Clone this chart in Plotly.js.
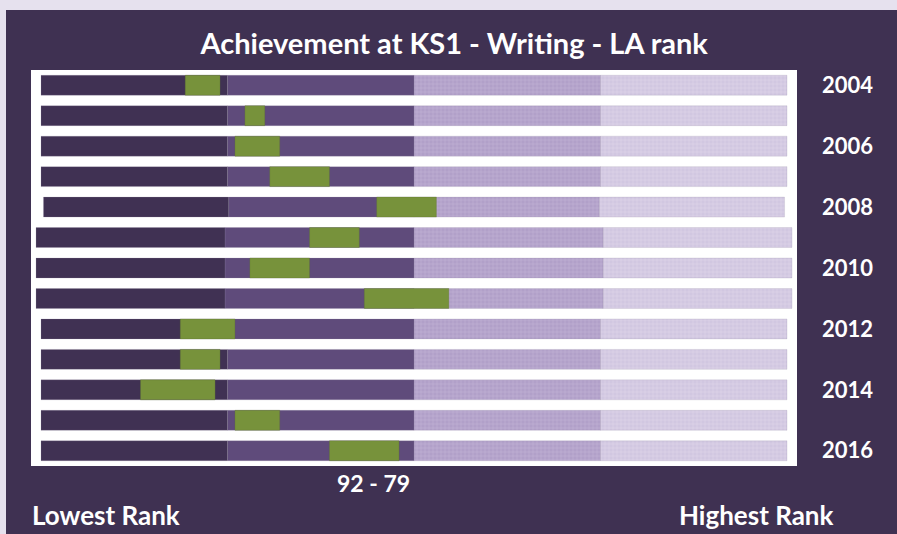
<!DOCTYPE html>
<html>
<head>
<meta charset="utf-8">
<script src="https://cdn.plot.ly/plotly-3.0.1.min.js"></script>
<style>
  html, body { margin: 0; padding: 0; background: #e6e1ee; width: 897px; height: 534px; overflow: hidden; }
  #chart { position: absolute; left: 6px; top: 10px; width: 891px; height: 524px; }
</style>
</head>
<body>
<div id="chart"></div>
<script>
// ---- data ----
const years = ['2004','2005','2006','2007','2008','2009','2010','2011','2012','2013','2014','2015','2016'];
const yearLabels = ['2004','','2006','','2008','','2010','','2012','','2014','','2016'];
// number of local authorities ranked each year
const laCount = [150,150,150,150,149,152,152,152,150,150,150,150,150];
// LA rank range for each year (worst rank, best rank)
const rangeWorst = [121,109,111,104,82,97,109,86,122,122,130,111,92];
const rangeBest  = [115,106,103,93,71,88,98,70,112,115,116,103,79];
const latestLabel = '92 - 79';

// ---- styling ----
const BG = '#3f3152';
const bandColors = ['#d4cbe3', '#b3a3cb', '#5f4b7b', '#403153']; // top quartile -> bottom quartile
const bandPattern = [
  {shape: '+', fgcolor: '#e3dcee', bgcolor: '#d1c7e1', size: 4, solidity: 0.2, fillmode: 'replace'},
  {shape: '+', fgcolor: '#c5b8da', bgcolor: '#b1a0c9', size: 4, solidity: 0.2, fillmode: 'replace'},
  null, null
];
const GREEN = '#77923b';
const FONT = 'Lato, "Open Sans", sans-serif';

// centre every year's bar on the median rank position
const shift = laCount.map(n => (n - 150) / 2);

const traces = [];
for (let k = 0; k < 4; k++) {
  const t = {
    type: 'bar', orientation: 'h',
    y: years,
    base: laCount.map((n, i) => n * k / 4 - shift[i]),
    x: laCount.map(n => n / 4),
    width: 0.655,
    marker: { color: bandColors[k], line: { color: 'rgba(150,140,165,0.35)', width: 0.6 } },
    hoverinfo: 'skip', showlegend: false
  };
  if (bandPattern[k]) t.marker.pattern = bandPattern[k];
  traces.push(t);
}
traces.push({
  type: 'bar', orientation: 'h',
  y: years,
  base: rangeBest.map((b, i) => b - 1 - shift[i]),
  x: rangeWorst.map((w, i) => w - (rangeBest[i] - 1)),
  width: 0.655,
  marker: { color: GREEN, line: { color: 'rgba(90,110,50,0.5)', width: 0.6 } },
  hoverinfo: 'skip', showlegend: false
});

const last = years.length - 1;
const layout = {
  width: 891, height: 524,
  margin: { l: 25, r: 100, t: 60, b: 68, pad: 0 },
  paper_bgcolor: BG,
  plot_bgcolor: '#ffffff',
  barmode: 'overlay',
  title: {
    text: 'Achievement at KS1 - Writing - LA rank',
    font: { family: FONT, size: 29, color: '#ffffff', weight: 'bold' },
    x: 0.503, xanchor: 'center', xref: 'container',
    y: 0.935, yanchor: 'middle', yref: 'container'
  },
  xaxis: {
    range: [152.01, -2.01], showgrid: false, zeroline: false,
    showticklabels: false, ticks: '', fixedrange: true
  },
  yaxis: {
    type: 'category', range: [12.5, -0.5], side: 'right',
    tickmode: 'array', tickvals: years, ticktext: yearLabels,
    ticks: '', ticklabelstandoff: 24,
    tickfont: { family: FONT, size: 22, color: '#ffffff', weight: 'bold' },
    showgrid: false, zeroline: false, showline: false, fixedrange: true
  },
  annotations: [
    {
      text: latestLabel, xref: 'x', yref: 'paper',
      x: (rangeWorst[last] + rangeBest[last] - 1) / 2 - shift[last], xshift: 9,
      y: 0, yshift: -17, xanchor: 'center', yanchor: 'middle', showarrow: false,
      font: { family: FONT, size: 23, color: '#ffffff', weight: 'bold' }
    },
    {
      text: 'Lowest Rank', xref: 'paper', yref: 'paper',
      x: -0.001, y: -0.1237, xanchor: 'left', yanchor: 'middle', showarrow: false,
      font: { family: FONT, size: 26, color: '#ffffff', weight: 'bold' }
    },
    {
      text: 'Highest Rank', xref: 'paper', yref: 'paper',
      x: 1.051, y: -0.1237, xanchor: 'right', yanchor: 'middle', showarrow: false,
      font: { family: FONT, size: 26, color: '#ffffff', weight: 'bold' }
    }
  ]
};

Plotly.newPlot('chart', traces, layout, { displayModeBar: false, staticPlot: true });
</script>
</body>
</html>
